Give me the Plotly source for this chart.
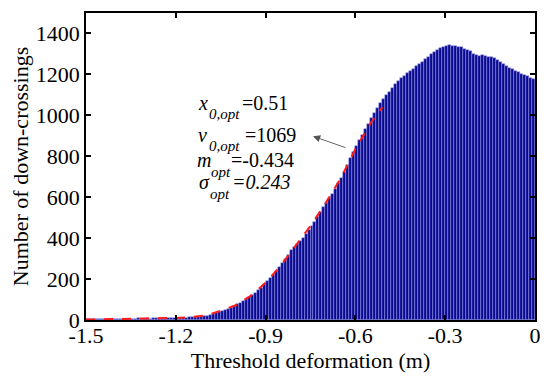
import plotly.graph_objects as go

# bin centres (width 0.01 m) from -1.495 to -0.005
bin_width = 0.01
x_centres = [round(-1.495 + bin_width * i, 3) for i in range(150)]

counts = [
    4, 5, 5, 6, 5, 6, 6, 5, 6, 6,
    6, 7, 6, 7, 7, 6, 7, 8, 7, 7,
    8, 7, 8, 9, 8, 9, 10, 9, 10, 10,
    11, 10, 12, 12, 13, 14, 15, 16, 17, 19,
    21, 24, 28, 33, 38, 43, 49, 55, 61, 68,
    76, 84, 92, 101, 111, 121, 132, 145, 158, 175,
    192, 205, 220, 238, 258, 278, 300, 320, 340, 355,
    370, 385, 400, 418, 438, 458, 480, 505, 528, 550,
    572, 595, 618, 642, 668, 695, 725, 758, 790, 822,
    850, 878, 905, 932, 958, 985, 1010, 1035, 1058, 1078,
    1098, 1116, 1135, 1152, 1168, 1180, 1192, 1205, 1216, 1228,
    1240, 1252, 1262, 1274, 1286, 1298, 1310, 1320, 1330, 1336,
    1340, 1342, 1338, 1340, 1336, 1332, 1326, 1320, 1312, 1302,
    1296, 1292, 1294, 1290, 1286, 1284, 1278, 1270, 1260, 1252,
    1242, 1232, 1224, 1216, 1210, 1204, 1198, 1190, 1182, 1176,
]

fit_x = [-1.5, -1.4, -1.3, -1.2, -1.15, -1.1, -1.05, -1.0, -0.95, -0.9,
         -0.85, -0.8, -0.75, -0.7, -0.65, -0.6, -0.55, -0.51]
fit_y = [2, 4, 6, 10, 14, 22, 45, 72, 118, 182,
         265, 360, 460, 570, 690, 835, 960, 1040]

x_ticks = [-1.5, -1.2, -0.9, -0.6, -0.3, 0]
x_tick_labels = ["-1.5", "-1.2", "-0.9", "-0.6", "-0.3", "0"]
y_ticks = [0, 200, 400, 600, 800, 1000, 1200, 1400]

# fitted parameters: (symbol, subscript, value text)
param_symbols = ["x", "v", "m", "σ"]
param_subs = ["0,opt", "0,opt", "opt", "opt"]
param_values = ["=0.51", "=1069", "=-0.434", "<i>=0.243</i>"]

FONT = "Liberation Serif, Times New Roman, serif"

# page is offset by the 8px body margin
OFF = 8
W, H = 550 - OFF, 383 - OFF
PL, PR, PT, PB = 86, 535, 11, 320  # plot area in page pixels


def px_to_paper(px, py):
    return (px - PL) / (PR - PL), (PB - py) / (PB - PT)


fig = go.Figure()
fig.add_trace(go.Bar(
    x=x_centres, y=counts, width=bin_width,
    marker=dict(color="#0a0a8e", line=dict(color="#9a9af0", width=0.5)),
    showlegend=False,
))
fig.add_trace(go.Scatter(
    x=fit_x, y=fit_y, mode="lines",
    line=dict(color="#ff1a1a", width=2, dash="dash"),
    showlegend=False,
))

ann = []
MAIN, SUB = 20, 15
sym_left = [198, 198, 197, 199]
sub_left = [209, 209, 211, 210]
val_left = [242, 245, 231, 232]
main_base = [108, 140, 166, 188]
sub_base = [118, 150, 176, 198]
for i in range(4):
    ym = main_base[i] - 0.335 * MAIN
    ys = sub_base[i] - 0.335 * SUB
    for txt, xl, yc, size in [
        ("<i>%s</i>" % param_symbols[i], sym_left[i], ym, MAIN),
        ("<i>%s</i>" % param_subs[i], sub_left[i], ys, SUB),
        (param_values[i], val_left[i], ym, MAIN),
    ]:
        px, py = px_to_paper(xl - 2, yc)
        ann.append(dict(text=txt, xref="paper", yref="paper", x=px, y=py,
                        xanchor="left", yanchor="middle", showarrow=False,
                        font=dict(family=FONT, size=size, color="black")))

hx, hy = px_to_paper(313, 135)
ann.append(dict(text="", xref="paper", yref="paper", x=hx, y=hy,
                ax=34, ay=12, showarrow=True, arrowhead=2, arrowsize=1.6,
                arrowwidth=0.9, arrowcolor="#555555"))

axis_common = dict(showline=True, linecolor="black", linewidth=1.5, mirror="ticks",
                   ticks="inside", ticklen=5, tickwidth=1.5, tickcolor="black",
                   showgrid=False, zeroline=False,
                   tickfont=dict(family=FONT, size=22, color="black"))

fig.update_layout(
    width=W, height=H,
    margin=dict(l=PL - OFF, r=W - (PR - OFF), t=PT - OFF, b=H - (PB - OFF)),
    plot_bgcolor="white", paper_bgcolor="white",
    bargap=0,
    xaxis=dict(range=[-1.5, 0], tickvals=x_ticks, ticktext=x_tick_labels,
               ticklabelstandoff=-5,
               title=dict(text="Threshold deformation (m)", standoff=0,
                          font=dict(family=FONT, size=22, color="black")),
               **axis_common),
    yaxis=dict(range=[0, 1500], tickvals=y_ticks,
               title=dict(text="Number of down-crossings", standoff=4,
                          font=dict(family=FONT, size=22, color="black")),
               **axis_common),
    annotations=ann,
)

fig.write_html("out.html")
